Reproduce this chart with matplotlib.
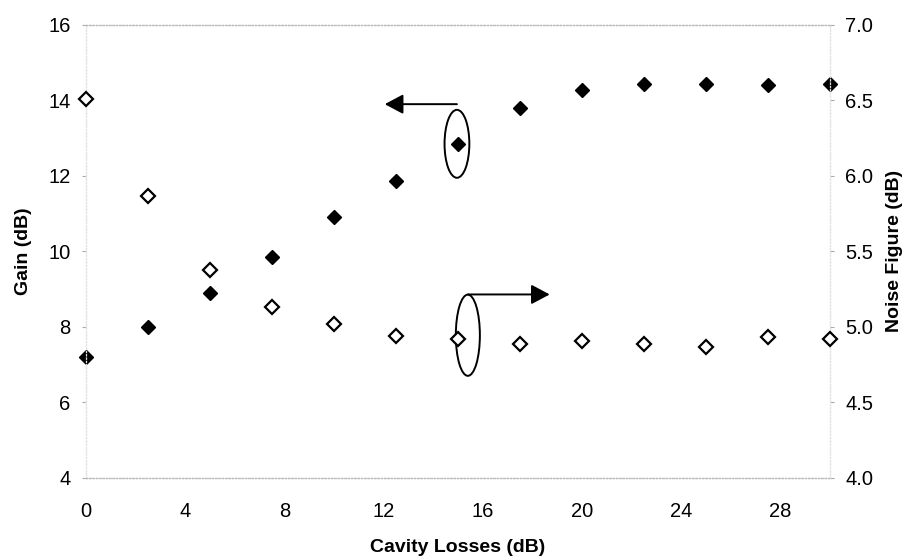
import matplotlib
matplotlib.use('Agg')
import matplotlib.pyplot as plt
from matplotlib.patches import Ellipse

# cavity losses (dB)
losses = [0, 2.5, 5, 7.5, 10, 12.5, 15, 17.5, 20, 22.5, 25, 27.5, 30]
# gain (dB), left axis
gain = [7.2, 8.0, 8.9, 9.85, 10.9, 11.87, 12.85, 13.8, 14.28, 14.44, 14.44, 14.41, 14.44]
# noise figure (dB), right axis
noise_fig = [6.51, 5.87, 5.38, 5.13, 5.02, 4.94, 4.92, 4.89, 4.91, 4.89, 4.87, 4.93, 4.92]

gain_ticks = [4, 6, 8, 10, 12, 14, 16]
nf_ticks = [4.0, 4.5, 5.0, 5.5, 6.0, 6.5, 7.0]
x_ticks = [0, 4, 8, 12, 16, 20, 24, 28]

plt.rcParams['font.family'] = ['Liberation Sans', 'DejaVu Sans']

fig = plt.figure(figsize=(9.05, 5.59), dpi=100)
ax = fig.add_axes([0.095, 0.145, 0.822, 0.8105])
ax2 = ax.twinx()

# gain: filled diamonds
ax.plot(losses, gain, linestyle='none', marker='D', markersize=7.5,
        color='black', zorder=3, clip_on=False)
# noise figure: open diamonds
ax2.plot(losses, noise_fig, linestyle='none', marker='D', markersize=7.0,
         markerfacecolor='white', markeredgecolor='black',
         markeredgewidth=1.6, zorder=3, clip_on=False)

ax.set_xlim(0, 30)
ax.set_ylim(4, 16)
ax2.set_ylim(4.0, 7.0)
ax.set_xticks(x_ticks)
ax.set_yticks(gain_ticks)
ax2.set_yticks(nf_ticks)
ax2.set_yticklabels(['%.1f' % t for t in nf_ticks])

ax.tick_params(axis='x', length=0, pad=17, labelsize=14.5)
ax.tick_params(axis='y', length=3, pad=8, labelsize=14.5, color='#aaaaaa')
ax2.tick_params(axis='y', length=3, pad=8, labelsize=14.5, color='#aaaaaa')

for a in (ax, ax2):
    for name, s in a.spines.items():
        s.set_linestyle(':')
        s.set_linewidth(0.9)
        if name in ('top', 'bottom'):
            s.set_color('#bbbbbb')
        else:
            s.set_color('#e4e4e4')

ax.set_xlabel('Cavity Losses (dB)', fontsize=14, fontweight='bold', labelpad=13)
ax.set_ylabel('Gain (dB)', fontsize=14, fontweight='bold', labelpad=12)
ax2.set_ylabel('Noise Figure (dB)', fontsize=14, fontweight='bold', labelpad=9)

head = '-|>,head_length=0.75,head_width=0.4'

# ellipse + arrow pointing to the gain axis
ax.add_patch(Ellipse((14.96, 12.85), 1.0, 1.8, fill=False, lw=1.4,
                     edgecolor='black', zorder=4))
ax.annotate('', xy=(12.05, 13.9), xytext=(14.96, 13.9),
            arrowprops=dict(arrowstyle=head, color='black', lw=1.4,
                            mutation_scale=15, shrinkA=0, shrinkB=0))

# ellipse + arrow pointing to the noise figure axis
ax.add_patch(Ellipse((15.4, 7.78), 0.97, 2.15, fill=False, lw=1.4,
                     edgecolor='black', zorder=4))
ax.annotate('', xy=(18.7, 8.86), xytext=(15.4, 8.86),
            arrowprops=dict(arrowstyle=head, color='black', lw=1.4,
                            mutation_scale=15, shrinkA=0, shrinkB=0))

fig.savefig('out.png', dpi=100)
